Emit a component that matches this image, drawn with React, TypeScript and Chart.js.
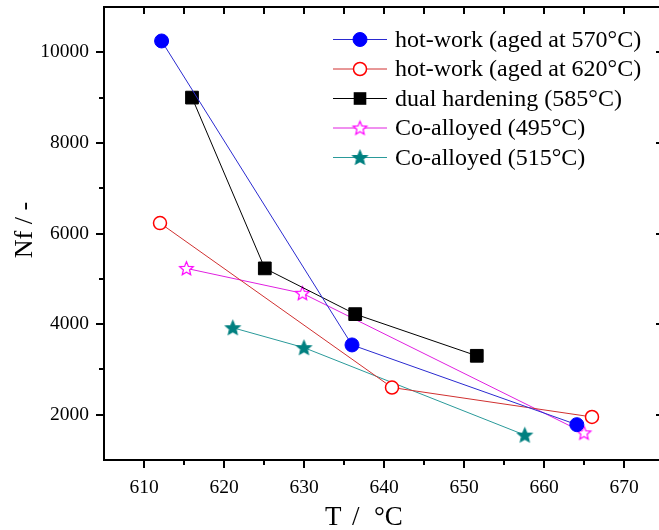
import React, { useEffect, useRef } from 'react';
import { Chart, registerables } from 'chart.js';

Chart.register(...registerables);

// Axis ranges and tick values
const tempRange = [605, 675];
const cyclesRange = [1000, 11000];
const tempMajorTicks = [610, 620, 630, 640, 650, 660, 670];
const tempMinorTicks = [615, 625, 635, 645, 655, 665];
const cyclesMajorTicks = [2000, 4000, 6000, 8000, 10000];
const cyclesMinorTicks = [3000, 5000, 7000, 9000];

// Series: temperature (°C) and cycles to failure
const hotWork570Temp = [612.2, 636, 664.1];
const hotWork570Cycles = [10250, 3540, 1780];
const hotWork620Temp = [612, 641, 666];
const hotWork620Cycles = [6230, 2600, 1950];
const dualHardeningTemp = [616, 625.1, 636.4, 651.6];
const dualHardeningCycles = [9000, 5230, 4220, 3300];
const coAlloyed495Temp = [615.3, 629.8, 665];
const coAlloyed495Cycles = [5230, 4680, 1600];
const coAlloyed515Temp = [621.1, 630, 657.6];
const coAlloyed515Cycles = [3920, 3480, 1550];

const seriesLabels = [
  'hot-work (aged at 570°C)',
  'hot-work (aged at 620°C)',
  'dual hardening (585°C)',
  'Co-alloyed (495°C)',
  'Co-alloyed (515°C)',
];

const SERIF = '"Liberation Serif", "Times New Roman", serif';

function starMarker(fill: string, stroke: string, outer: number): HTMLCanvasElement {
  const size = Math.ceil(outer * 2 + 4);
  const c = document.createElement('canvas');
  c.width = size;
  c.height = size;
  const g = c.getContext('2d')!;
  const cx = size / 2;
  const cy = size / 2 + 0.5;
  const inner = outer * 0.45;
  g.beginPath();
  for (let i = 0; i < 10; i++) {
    const r = i % 2 === 0 ? outer : inner;
    const a = -Math.PI / 2 + (i * Math.PI) / 5;
    g.lineTo(cx + r * Math.cos(a), cy + r * Math.sin(a));
  }
  g.closePath();
  g.fillStyle = fill;
  g.fill();
  g.lineWidth = 1.2;
  g.strokeStyle = stroke;
  g.stroke();
  return c;
}

function pairs(xs: number[], ys: number[]) {
  return xs.map((x, i) => ({ x, y: ys[i] }));
}

function fixBox(size: { width?: number; height?: number }) {
  return (s: any) => {
    if (size.width !== undefined) s.width = size.width;
    if (size.height !== undefined) s.height = size.height;
    s.paddingTop = 0;
    s.paddingBottom = 0;
    s.paddingLeft = 0;
    s.paddingRight = 0;
  };
}

export default function App() {
  const canvasRef = useRef<HTMLCanvasElement>(null);

  useEffect(() => {
    document.body.style.margin = '0';
    const canvas = canvasRef.current;
    if (!canvas) return;

    const openStar = starMarker('#ffffff', '#ff00ff', 7.2);
    const solidStar = starMarker('#008080', '#008080', 7.5);

    const series = [
      {
        label: seriesLabels[0],
        data: pairs(hotWork570Temp, hotWork570Cycles),
        borderColor: '#2a2ad0',
        pointStyle: 'circle' as const,
        pointRadius: 7,
        pointBackgroundColor: '#0000ff',
        pointBorderColor: '#0000ff',
        pointBorderWidth: 1,
      },
      {
        label: seriesLabels[1],
        data: pairs(hotWork620Temp, hotWork620Cycles),
        borderColor: '#d03030',
        pointStyle: 'circle' as const,
        pointRadius: 6.5,
        pointBackgroundColor: '#ffffff',
        pointBorderColor: '#ff0000',
        pointBorderWidth: 1.5,
      },
      {
        label: seriesLabels[2],
        data: pairs(dualHardeningTemp, dualHardeningCycles),
        borderColor: '#000000',
        pointStyle: 'rect' as const,
        pointRadius: 9,
        pointBackgroundColor: '#000000',
        pointBorderColor: '#000000',
        pointBorderWidth: 1,
      },
      {
        label: seriesLabels[3],
        data: pairs(coAlloyed495Temp, coAlloyed495Cycles),
        borderColor: '#e020e0',
        pointStyle: openStar,
        pointRadius: 7,
        pointBackgroundColor: '#ffffff',
        pointBorderColor: '#ff00ff',
        pointBorderWidth: 1,
      },
      {
        label: seriesLabels[4],
        data: pairs(coAlloyed515Temp, coAlloyed515Cycles),
        borderColor: '#2a9a9a',
        pointStyle: solidStar,
        pointRadius: 7.5,
        pointBackgroundColor: '#008080',
        pointBorderColor: '#008080',
        pointBorderWidth: 1,
      },
    ];

    const markers = [
      { kind: 'circle', r: 7, fill: '#0000ff', stroke: '#0000ff', lw: 1 },
      { kind: 'circle', r: 6.5, fill: '#ffffff', stroke: '#ff0000', lw: 1.5 },
      { kind: 'rect', r: 6.3, fill: '#000000', stroke: '#000000', lw: 1 },
      { kind: 'image', img: openStar },
      { kind: 'image', img: solidStar },
    ];

    const framePlugin = {
      id: 'frameAndLegend',
      afterDraw(chart: Chart) {
        const { ctx, chartArea } = chart;
        const xs = chart.scales.x;
        const ys = chart.scales.y;
        const { left, right, top, bottom } = chartArea;
        ctx.save();
        ctx.strokeStyle = '#000';
        ctx.lineWidth = 2;
        ctx.lineCap = 'butt';
        ctx.strokeRect(left, top, right - left, bottom - top);

        const tick = (x1: number, y1: number, x2: number, y2: number) => {
          ctx.beginPath();
          ctx.moveTo(x1, y1);
          ctx.lineTo(x2, y2);
          ctx.stroke();
        };
        // bottom (outward) and top (inward) ticks
        tempMajorTicks.forEach((v) => {
          const px = Math.round(xs.getPixelForValue(v));
          tick(px, bottom, px, bottom + 8);
          tick(px, top, px, top + 7);
        });
        tempMinorTicks.forEach((v) => {
          const px = Math.round(xs.getPixelForValue(v));
          tick(px, bottom, px, bottom + 5);
          tick(px, top, px, top + 7);
        });
        // left (outward) and right (inward) ticks
        cyclesMajorTicks.forEach((v) => {
          const py = Math.round(ys.getPixelForValue(v));
          tick(left, py, left - 8, py);
          tick(right, py, right - 8, py);
        });
        cyclesMinorTicks.forEach((v) => {
          const py = Math.round(ys.getPixelForValue(v));
          tick(left, py, left - 5, py);
        });

        // axis titles
        ctx.fillStyle = '#000';
        ctx.font = `27px ${SERIF}`;
        ctx.textAlign = 'left';
        ctx.textBaseline = 'alphabetic';
        ctx.fillText('T', 325, 525);
        ctx.fillText('/', 352, 525);
        ctx.fillText('°C', 374, 525);
        ctx.font = `26px ${SERIF}`;
        ctx.textAlign = 'center';
        ctx.save();
        ctx.translate(32, 230);
        ctx.rotate(-Math.PI / 2);
        ctx.fillText('Nf / -', 0, 0);
        ctx.restore();

        // legend
        const lx0 = 333;
        const lx1 = 387;
        const mx = 360;
        ctx.font = `24px ${SERIF}`;
        ctx.textAlign = 'left';
        ctx.textBaseline = 'middle';
        series.forEach((s, i) => {
          const y = 39.5 + i * 29.5;
          ctx.strokeStyle = s.borderColor;
          ctx.lineWidth = 1;
          tick(lx0, y, lx1, y);
          const m: any = markers[i];
          if (m.kind === 'circle') {
            ctx.beginPath();
            ctx.arc(mx, y, m.r, 0, Math.PI * 2);
            ctx.fillStyle = m.fill;
            ctx.fill();
            ctx.lineWidth = m.lw;
            ctx.strokeStyle = m.stroke;
            ctx.stroke();
          } else if (m.kind === 'rect') {
            ctx.fillStyle = m.fill;
            ctx.fillRect(mx - m.r, y - m.r, m.r * 2, m.r * 2);
          } else {
            ctx.drawImage(m.img, mx - m.img.width / 2, y - m.img.height / 2);
          }
          ctx.fillStyle = '#000';
          ctx.fillText(s.label, 395, y + 1);
        });
        ctx.restore();
      },
    };

    const chart = new Chart(canvas, {
      type: 'line',
      data: {
        datasets: series.map((s) => ({
          ...s,
          borderWidth: 1,
          fill: false,
          tension: 0,
          pointHoverRadius: s.pointRadius,
        })),
      },
      options: {
        responsive: false,
        animation: false,
        events: [],
        layout: { autoPadding: false, padding: { top: 7, right: 4, left: 0, bottom: 0 } },
        plugins: {
          legend: { display: false },
          tooltip: { enabled: false },
          title: { display: false },
        },
        scales: {
          x: {
            type: 'linear',
            min: tempRange[0],
            max: tempRange[1],
            afterFit: fixBox({ height: 70 }),
            afterBuildTicks: (s: any) => {
              s.ticks = tempMajorTicks.map((v) => ({ value: v }));
            },
            grid: { display: false, drawTicks: false },
            border: { display: false },
            ticks: {
              autoSkip: false,
              maxRotation: 0,
              padding: 16,
              color: '#000',
              font: { family: SERIF, size: 19.5 },
              callback: (v: any) => String(v),
            },
          },
          y: {
            type: 'linear',
            min: cyclesRange[0],
            max: cyclesRange[1],
            afterFit: fixBox({ width: 104 }),
            afterBuildTicks: (s: any) => {
              s.ticks = cyclesMajorTicks.map((v) => ({ value: v }));
            },
            grid: { display: false, drawTicks: false },
            border: { display: false },
            ticks: {
              autoSkip: false,
              padding: 15,
              color: '#000',
              font: { family: SERIF, size: 19.5 },
              callback: (v: any) => String(v),
            },
          },
        },
      },
      plugins: [framePlugin],
    });

    return () => chart.destroy();
  }, []);

  return (
    <div style={{ width: 659, height: 530, overflow: 'hidden', background: '#fff' }}>
      <canvas
        ref={canvasRef}
        width={668}
        height={530}
        style={{ display: 'block', width: 668, height: 530 }}
      />
    </div>
  );
}
